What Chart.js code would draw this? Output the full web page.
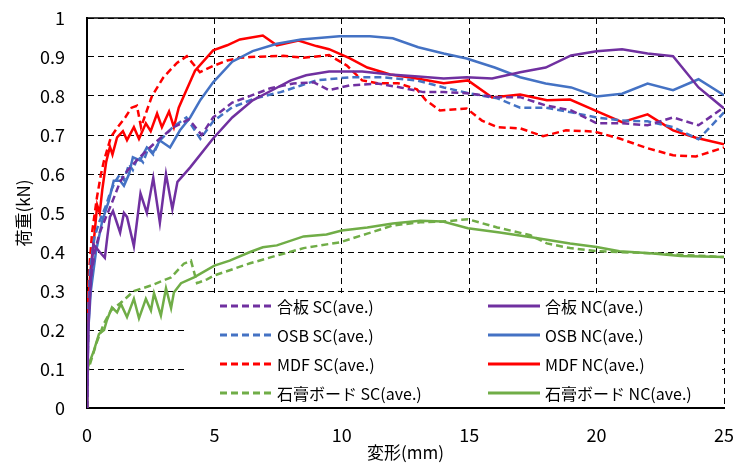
<!DOCTYPE html>
<html>
<head>
<meta charset="utf-8">
<script src="https://cdn.jsdelivr.net/npm/chart.js@4/dist/chart.umd.min.js"></script>
<style>
  body { margin: 0; background: #fff; }
  #wrap { width: 735px; height: 468px; }
</style>
</head>
<body>
<div id="wrap"><canvas id="loadChart" width="735" height="468"></canvas></div>
<script>
// 荷重-変形 (ave.) データ
const seriesNames = ['合板 SC(ave.)', '合板 NC(ave.)', 'OSB SC(ave.)', 'OSB NC(ave.)',
                     'MDF SC(ave.)', 'MDF NC(ave.)', '石膏ボード SC(ave.)', '石膏ボード NC(ave.)'];
const xTicks = [0, 5, 10, 15, 20, 25];
const yTicks = ['0', '0.1', '0.2', '0.3', '0.4', '0.5', '0.6', '0.7', '0.8', '0.9', '1'];

// 合板
const plySC_x = [0, 0.05, 0.15, 0.3, 0.5, 0.75, 1.0, 1.3, 1.6, 2.1, 2.75, 3.4, 4.0, 4.5, 4.95, 5.7, 6.6, 7.2, 8.1, 8.9, 9.5, 10.3, 11.4, 12.3, 13.2, 14.0, 14.9, 16.1, 17.0, 18.0, 19.0, 20.0, 21.0, 22.0, 23.0, 24.0, 25.0];
const plySC_y = [0, 0.22, 0.33, 0.40, 0.45, 0.49, 0.53, 0.58, 0.61, 0.645, 0.685, 0.72, 0.74, 0.70, 0.745, 0.783, 0.805, 0.82, 0.832, 0.835, 0.815, 0.827, 0.832, 0.822, 0.81, 0.81, 0.807, 0.797, 0.797, 0.776, 0.763, 0.73, 0.73, 0.725, 0.745, 0.725, 0.771];
const plyNC_x = [0, 0.05, 0.15, 0.25, 0.5, 0.7, 0.8, 0.9, 1.02, 1.3, 1.45, 1.57, 1.84, 2.1, 2.35, 2.6, 2.86, 3.1, 3.35, 3.55, 4.05, 4.95, 5.7, 6.5, 7.3, 8.0, 8.6, 9.5, 10.8, 11.9, 13.0, 14.0, 14.9, 15.9, 17.0, 18.0, 19.0, 20.0, 21.0, 22.0, 23.0, 24.0, 25.0];
const plyNC_y = [0, 0.2, 0.33, 0.42, 0.40, 0.385, 0.44, 0.49, 0.505, 0.45, 0.50, 0.49, 0.415, 0.55, 0.50, 0.59, 0.475, 0.60, 0.51, 0.58, 0.617, 0.691, 0.745, 0.789, 0.816, 0.84, 0.853, 0.863, 0.863, 0.855, 0.85, 0.845, 0.848, 0.845, 0.861, 0.873, 0.904, 0.915, 0.92, 0.909, 0.902, 0.822, 0.768];

// OSB
const osbSC_x = [0, 0.05, 0.12, 0.3, 0.5, 0.75, 0.9, 1.1, 1.3, 1.45, 1.65, 1.8, 2.0, 2.2, 2.4, 2.6, 2.86, 3.37, 3.9, 4.45, 4.95, 5.7, 6.6, 7.6, 8.4, 9.0, 10.3, 11.6, 12.95, 14.0, 15.0, 16.1, 17.0, 18.0, 19.0, 20.0, 21.0, 22.0, 23.0, 24.0, 25.0];
const osbSC_y = [0, 0.25, 0.36, 0.44, 0.48, 0.52, 0.55, 0.58, 0.60, 0.585, 0.625, 0.61, 0.645, 0.63, 0.665, 0.65, 0.686, 0.72, 0.745, 0.69, 0.735, 0.771, 0.794, 0.81, 0.827, 0.84, 0.848, 0.848, 0.84, 0.822, 0.807, 0.794, 0.77, 0.77, 0.758, 0.745, 0.737, 0.735, 0.72, 0.689, 0.758];
const osbNC_x = [0, 0.05, 0.15, 0.35, 0.6, 0.85, 1.05, 1.3, 1.45, 1.65, 1.8, 2.08, 2.35, 2.6, 2.86, 3.26, 3.65, 4.05, 4.45, 4.95, 5.7, 6.5, 7.45, 8.4, 9.9, 11.1, 12.0, 13.0, 14.0, 14.9, 16.0, 17.0, 18.0, 19.0, 20.0, 21.0, 22.0, 23.0, 24.0, 25.0];
const osbNC_y = [0, 0.2, 0.3, 0.4, 0.48, 0.53, 0.583, 0.583, 0.57, 0.6, 0.643, 0.635, 0.668, 0.655, 0.686, 0.668, 0.712, 0.745, 0.79, 0.835, 0.888, 0.915, 0.934, 0.945, 0.953, 0.953, 0.948, 0.925, 0.909, 0.896, 0.873, 0.848, 0.832, 0.822, 0.799, 0.806, 0.832, 0.815, 0.843, 0.802];

// MDF
const mdfSC_x = [0, 0.03, 0.08, 0.2, 0.39, 0.55, 0.67, 0.94, 1.2, 1.5, 1.75, 1.96, 2.12, 2.55, 3.0, 3.53, 3.92, 4.43, 4.95, 5.5, 6.0, 6.4, 7.7, 8.5, 9.5, 10.2, 10.8, 11.4, 12.2, 12.95, 13.3, 13.85, 14.9, 15.5, 16.1, 17.0, 17.9, 18.8, 19.9, 20.9, 22.0, 23.0, 23.9, 25.0];
const mdfSC_y = [0, 0.28, 0.35, 0.45, 0.54, 0.6, 0.635, 0.695, 0.72, 0.745, 0.77, 0.775, 0.72, 0.80, 0.848, 0.885, 0.902, 0.861, 0.877, 0.891, 0.898, 0.9, 0.903, 0.898, 0.905, 0.878, 0.84, 0.833, 0.833, 0.817, 0.789, 0.763, 0.768, 0.737, 0.72, 0.717, 0.697, 0.712, 0.709, 0.691, 0.666, 0.648, 0.645, 0.668];
const mdfNC_x = [0, 0.05, 0.15, 0.3, 0.4, 0.5, 0.6, 0.75, 0.9, 1.0, 1.18, 1.41, 1.57, 1.84, 2.04, 2.31, 2.5, 2.75, 2.94, 3.22, 3.41, 3.6, 3.8, 4.24, 4.95, 5.5, 6.0, 6.9, 7.45, 8.3, 9.0, 9.5, 10.3, 11.0, 11.9, 12.95, 14.0, 14.95, 15.9, 17.0, 18.05, 18.96, 20.0, 21.0, 22.0, 23.0, 23.9, 25.0];
const mdfNC_y = [0, 0.28, 0.36, 0.45, 0.52, 0.50, 0.56, 0.63, 0.67, 0.65, 0.694, 0.71, 0.687, 0.72, 0.69, 0.73, 0.71, 0.755, 0.72, 0.76, 0.72, 0.77, 0.80, 0.865, 0.917, 0.93, 0.945, 0.955, 0.93, 0.942, 0.928, 0.92, 0.897, 0.873, 0.855, 0.845, 0.833, 0.84, 0.796, 0.804, 0.789, 0.791, 0.761, 0.733, 0.753, 0.712, 0.693, 0.676];

// 石膏ボード
const gypSC_x = [0, 0.01, 0.39, 0.67, 0.94, 1.33, 1.84, 2.51, 3.3, 3.8, 4.08, 4.32, 4.71, 5.0, 6.4, 7.45, 8.5, 9.93, 11.0, 12.0, 13.07, 13.97, 14.95, 16.1, 17.4, 18.05, 18.96, 20.0, 22.1, 25.0];
const gypSC_y = [0, 0.09, 0.17, 0.217, 0.25, 0.27, 0.3, 0.314, 0.335, 0.37, 0.378, 0.32, 0.33, 0.34, 0.371, 0.391, 0.41, 0.425, 0.447, 0.468, 0.476, 0.478, 0.484, 0.463, 0.443, 0.422, 0.41, 0.402, 0.397, 0.387];
const gypNC_x = [0, 0.01, 0.08, 0.27, 0.47, 0.67, 0.78, 0.98, 1.18, 1.33, 1.57, 1.84, 2.04, 2.31, 2.51, 2.63, 2.9, 3.1, 3.3, 3.41, 3.69, 4.2, 5.0, 5.6, 6.4, 6.9, 7.45, 8.5, 9.4, 10.0, 11.0, 12.0, 13.07, 13.97, 14.95, 16.2, 17.5, 18.96, 20.0, 20.9, 22.1, 23.3, 25.0];
const gypNC_y = [0, 0.097, 0.114, 0.147, 0.19, 0.2, 0.225, 0.258, 0.245, 0.267, 0.233, 0.28, 0.23, 0.28, 0.25, 0.294, 0.237, 0.307, 0.256, 0.296, 0.32, 0.335, 0.365, 0.378, 0.4, 0.412, 0.417, 0.44, 0.445, 0.455, 0.463, 0.473, 0.48, 0.478, 0.461, 0.45, 0.437, 0.422, 0.413, 0.402, 0.397, 0.39, 0.387];

const seriesX = [plySC_x, plyNC_x, osbSC_x, osbNC_x, mdfSC_x, mdfNC_x, gypSC_x, gypNC_x];
const seriesY = [plySC_y, plyNC_y, osbSC_y, osbNC_y, mdfSC_y, mdfNC_y, gypSC_y, gypNC_y];
const seriesColors = ['#7030A0', '#7030A0', '#4472C4', '#4472C4', '#FF0000', '#FF0000', '#70AD47', '#70AD47'];

const FONT = "'Noto Sans CJK JP', 'Noto Sans', sans-serif";

function toPoints(xs, ys) {
    return xs.map((x, i) => ({ x: x, y: ys[i] }));
}

const datasets = seriesNames.map((name, i) => ({
    label: name,
    data: toPoints(seriesX[i], seriesY[i]),
    borderColor: seriesColors[i],
    backgroundColor: seriesColors[i],
    borderWidth: 2.5,
    borderDash: i % 2 === 0 ? [7, 4] : [],
    showLine: true,
    pointRadius: 0,
    tension: 0
}));

// 凡例（プロット内の白い箱）
const innerLegend = {
    id: 'innerLegend',
    beforeDatasetsDraw(chart) {
        const ctx = chart.ctx;
        const yS = chart.scales.y;
        const top = yS.getPixelForValue(0.3) + 2;
        ctx.save();
        ctx.fillStyle = '#fff';
        ctx.fillRect(184, top, chart.chartArea.right - 186, chart.chartArea.bottom - top - 2);
        ctx.restore();
    },
    afterDatasetsDraw(chart) {
        const ctx = chart.ctx;
        const colX = [220, 488];
        ctx.save();
        ctx.font = '16px ' + FONT;
        ctx.textBaseline = 'middle';
        chart.data.datasets.forEach((ds, i) => {
            const col = i % 2, row = Math.floor(i / 2);
            const x0 = colX[col];
            const y0 = 306 + row * 29;
            ctx.strokeStyle = ds.borderColor;
            ctx.lineWidth = 3;
            ctx.setLineDash(ds.borderDash);
            ctx.beginPath();
            ctx.moveTo(x0, y0);
            ctx.lineTo(x0 + 52, y0);
            ctx.stroke();
            ctx.setLineDash([]);
            ctx.fillStyle = '#000';
            ctx.fillText(ds.label, x0 + 57, y0 + 1);
        });
        ctx.restore();
    },
    afterDraw(chart) {
        // 上枠は実線
        const a = chart.chartArea;
        const ctx = chart.ctx;
        ctx.save();
        ctx.strokeStyle = '#000';
        ctx.lineWidth = 1.5;
        ctx.beginPath();
        ctx.moveTo(a.left, a.top);
        ctx.lineTo(a.right, a.top);
        ctx.stroke();
        ctx.restore();
    }
};

new Chart(document.getElementById('loadChart'), {
    type: 'scatter',
    data: { datasets: datasets },
    plugins: [innerLegend],
    options: {
        responsive: false,
        animation: false,
        devicePixelRatio: 1,
        layout: { padding: { top: 18, right: 11, left: 0, bottom: 0 } },
        plugins: { legend: { display: false }, tooltip: { enabled: false } },
        scales: {
            x: {
                type: 'linear',
                min: 0, max: 25,
                afterBuildTicks: axis => { axis.ticks = xTicks.map(v => ({ value: v })); },
                afterFit: axis => { axis.height = 60; axis.paddingLeft = 0; axis.paddingRight = 0; },
                grid: { color: '#000', lineWidth: 1, drawTicks: false },
                border: { display: true, color: '#000', width: 2, dash: [6, 4] },
                ticks: { color: '#000', padding: 16, font: { size: 18, family: FONT } },
                title: { display: true, text: '変形(mm)', color: '#000', padding: { top: 0, bottom: 5 }, font: { size: 17, family: FONT } }
            },
            y: {
                type: 'linear',
                min: 0, max: 1,
                afterBuildTicks: axis => { axis.ticks = yTicks.map(v => ({ value: parseFloat(v) })); },
                afterFit: axis => { axis.width = 87; axis.paddingTop = 0; axis.paddingBottom = 0; },
                grid: { color: '#000', lineWidth: 1, drawTicks: false },
                border: { display: true, color: '#000', width: 2, dash: [6, 4] },
                ticks: {
                    color: '#000', padding: 22, font: { size: 18, family: FONT },
                    callback: (v, i) => yTicks[i]
                },
                title: { display: true, text: '荷重(kN)', color: '#000', padding: { top: 13, bottom: 0 }, font: { size: 17, family: FONT } }
            }
        }
    }
});
</script>
</body>
</html>
